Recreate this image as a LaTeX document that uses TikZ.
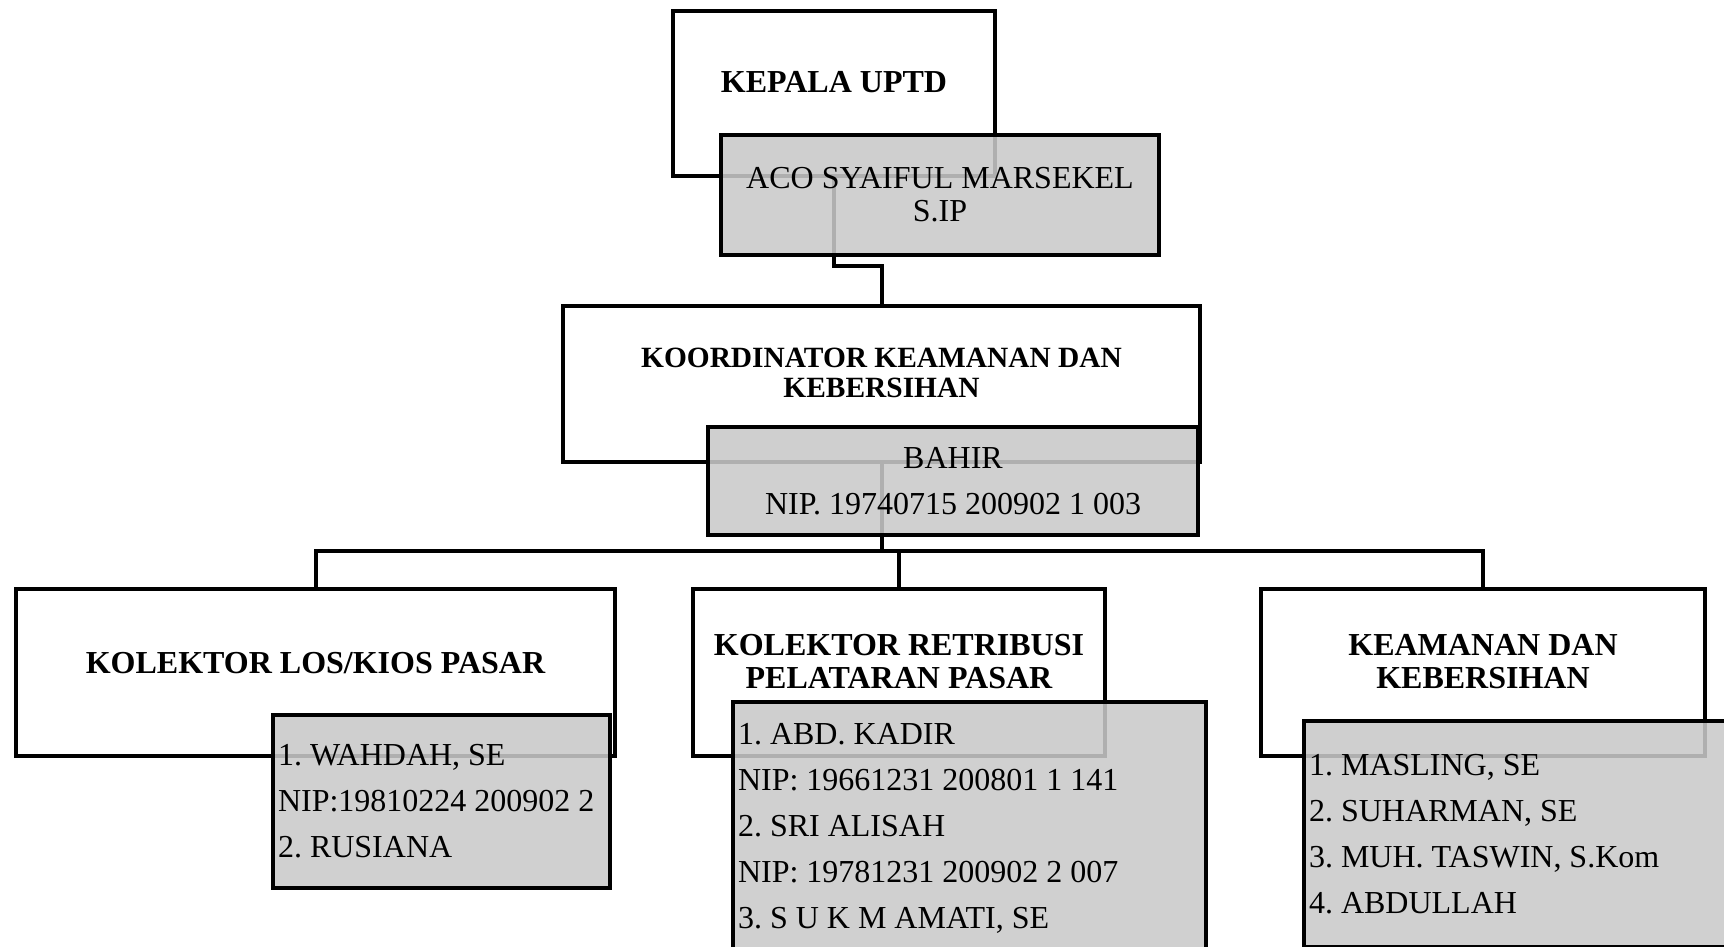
\documentclass[tikz,border=0pt]{standalone}
\usepackage{fontspec}
\setmainfont{Liberation Serif}
\definecolor{namegray}{HTML}{C9C9C9}
\tikzset{
  unitbox/.style={draw=black, line width=2pt, fill=white, inner sep=0pt},
  namebox/.style={draw=black, line width=2pt, fill=namegray, fill opacity=0.875,
    text opacity=1, inner xsep=2.5pt, inner ysep=0pt},
  unittext/.style={font=\fontsize{16}{16.5}\selectfont\bfseries, align=center, inner sep=0pt},
  nametext/.style={font=\fontsize{16}{23}\selectfont\frenchspacing},
  link/.style={line width=2pt, line join=miter}
}

\begin{document}
\begin{tikzpicture}[x=0.5pt, y=0.5pt]

  \newcommand\U{0.5pt}

  \useasboundingbox (0,0) rectangle (1724,-947);

  %% unit boxes
  \node[unitbox, minimum width=322*\U, minimum height=165*\U] (head) at (834,-93.5) {};
  \node[unitbox, minimum width=637*\U, minimum height=156*\U] (coord) at (881.5,-384) {};
  \node[unitbox, minimum width=599*\U, minimum height=167*\U] (los) at (315.5,-672.5) {};
  \node[unitbox, minimum width=412*\U, minimum height=167*\U] (ret) at (899,-672.5) {};
  \node[unitbox, minimum width=444*\U, minimum height=167*\U] (aman) at (1483,-672.5) {};

  \node[unittext] (headlbl) at ([yshift=5.75pt]head.center) {KEPALA UPTD};
  \node[unittext, font=\fontsize{14.7}{14.85}\selectfont\bfseries] (coordlbl) at ([yshift=5.5pt]coord.center) {KOORDINATOR KEAMANAN DAN\\KEBERSIHAN};
  \node[unittext] (loslbl) at ([yshift=4.75pt]los.center) {KOLEKTOR LOS/KIOS PASAR};
  \node[unittext] (retlbl) at ([yshift=5.5pt]ret.center) {KOLEKTOR RETRIBUSI\\PELATARAN PASAR};
  \node[unittext] (amanlbl) at ([yshift=5.5pt]aman.center) {KEAMANAN DAN\\KEBERSIHAN};

  %% connectors
  \coordinate (jog) at (834,-266);
  \draw[link] (head.south) -- (jog) -| (coord.north);
  \coordinate (bus) at (881.5,-551);
  \draw[link] (coord.south) -- (bus);
  \draw[link] (los.north) |- (bus) -| (aman.north);
  \draw[link] (ret.north) |- (bus);

  %% name boxes
  \node[namebox, nametext, font=\fontsize{16}{16.5}\selectfont, align=center,
    minimum width=438*\U, minimum height=120*\U] (headname) at (940,-195)
    {ACO SYAIFUL MARSEKEL\\S.IP};
  \node[namebox, nametext, align=center,
    minimum width=490*\U, minimum height=108*\U] (coordname) at (953,-481)
    {BAHIR\\NIP. 19740715 200902 1 003};
  \node[namebox, nametext, align=flush left, text width=163.5pt,
    minimum width=337*\U, minimum height=173*\U] (losname) at (441.5,-801)
    {1. WAHDAH, SE\\NIP:19810224 200902 2\\2. RUSIANA};
  \node[namebox, nametext, align=flush left, text width=231.5pt,
    minimum width=473*\U, minimum height=252*\U] (retname) at (969.5,-828)
    {1. ABD. KADIR\\NIP: 19661231 200801 1 141\\2. SRI ALISAH\\NIP: 19781231 200902 2 007\\3. S U K M AMATI, SE};
  \node[namebox, nametext, align=flush left, text width=223pt,
    minimum width=456*\U, minimum height=226*\U] (amanname) at (1532,-834)
    {1. MASLING, SE\\2. SUHARMAN, SE\\3. MUH. TASWIN, S.Kom\\4. ABDULLAH};

\end{tikzpicture}
\end{document}
